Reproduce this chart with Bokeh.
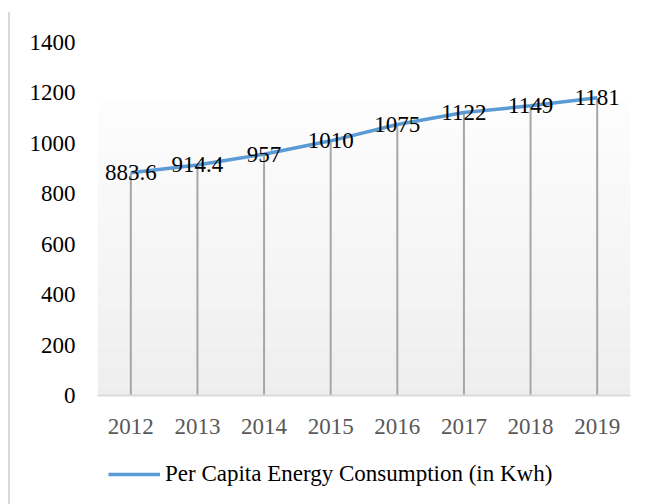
from bokeh.plotting import figure
from bokeh.layouts import column
from bokeh.models import (ColumnDataSource, FactorRange, Range1d, FixedTicker,
                          Legend, LegendItem, BoxAnnotation)
from bokeh.core.properties import value
from bokeh.embed import file_html
from bokeh.resources import INLINE

years = ["2012", "2013", "2014", "2015", "2016", "2017", "2018", "2019"]
consumption = [883.6, 914.4, 957, 1010, 1075, 1122, 1149, 1181]
labels = ["883.6", "914.4", "957", "1010", "1075", "1122", "1149", "1181"]
y_ticks = [0, 200, 400, 600, 800, 1000, 1200, 1400]
series_name = "Per Capita Energy Consumption (in Kwh)"

FONT = "Liberation Serif"
FS = "23px"
LINE_COLOR = "#5b9bd5"

src = ColumnDataSource(dict(x=years, y=consumption, base=[0] * len(years), lab=labels))

p = figure(width=644, height=438, x_range=FactorRange(*years, range_padding=0),
           y_range=Range1d(0, 1400), output_backend="svg", toolbar_location=None,
           min_border_left=87, min_border_right=24, min_border_top=30,
           min_border_bottom=55)
p.outline_line_color = None
p.xgrid.grid_line_color = None
p.ygrid.grid_line_color = None
p.background_fill_color = "white"
p.border_fill_color = "white"

# gradient plot-area wall (decoration)
n_bands = 30
g_top = 1165
for i in range(n_bands):
    b = g_top * i / n_bands
    t = g_top * (i + 1) / n_bands
    frac = i / (n_bands - 1)
    c = int(round(0xee + (0xfd - 0xee) * frac))
    p.add_layout(BoxAnnotation(bottom=b, top=t, fill_color=f"#{c:02x}{c:02x}{c:02x}",
                               fill_alpha=1.0, line_color=None, level="underlay"))

# drop lines
p.segment(x0="x", y0="base", x1="x", y1="y", source=src, line_color="#a6a6a6", line_width=2)

line = p.line(x="x", y="y", source=src, line_color=LINE_COLOR, line_width=3.5)

p.text(x="x", y="y", text="lab", source=src, text_font=value(FONT), text_font_size=FS,
       text_align="center", text_baseline="middle", text_color="black")

# axes
p.yaxis.ticker = FixedTicker(ticks=y_ticks)
p.yaxis.axis_line_color = None
p.yaxis.major_tick_line_color = None
p.yaxis.minor_tick_line_color = None
p.yaxis.major_tick_out = 0
p.yaxis.major_tick_in = 0
p.yaxis.major_label_standoff = 22
p.yaxis.major_label_text_font = FONT
p.yaxis.major_label_text_font_size = FS
p.yaxis.major_label_text_color = "black"

p.xaxis.axis_line_color = "#d9d9d9"
p.xaxis.axis_line_width = 2
p.xaxis.major_tick_line_color = None
p.xaxis.minor_tick_line_color = None
p.xaxis.major_tick_out = 0
p.xaxis.major_tick_in = 0
p.xaxis.major_label_standoff = 23
p.xaxis.major_label_text_font = FONT
p.xaxis.major_label_text_font_size = FS
p.xaxis.major_label_text_color = "#595959"

# legend strip below the chart
lg = figure(width=644, height=54, output_backend="svg", toolbar_location=None,
            x_range=Range1d(0, 1), y_range=Range1d(0, 1),
            x_axis_type=None, y_axis_type=None, min_border_left=0, min_border_right=0,
            min_border_top=0, min_border_bottom=0)
lg.outline_line_color = None
lg.xgrid.grid_line_color = None
lg.ygrid.grid_line_color = None
lg_line = lg.line(x=[2, 3], y=[2, 3], line_color=LINE_COLOR, line_width=3.5)
legend = Legend(items=[LegendItem(label=series_name, renderers=[lg_line])],
                location=(11, 17), orientation="horizontal",
                glyph_width=52, glyph_height=26, label_standoff=5,
                padding=0, margin=0, border_line_color=None,
                background_fill_alpha=0,
                label_text_font=FONT, label_text_font_size=FS,
                label_text_color="black")
lg.add_layout(legend, "center")

layout = column(p, lg, spacing=0)
layout.styles = {"border-left": "2px solid #d9d9d9", "margin-left": "8px", "margin-top": "12px"}

open("out.html", "w").write(file_html(layout, INLINE))
